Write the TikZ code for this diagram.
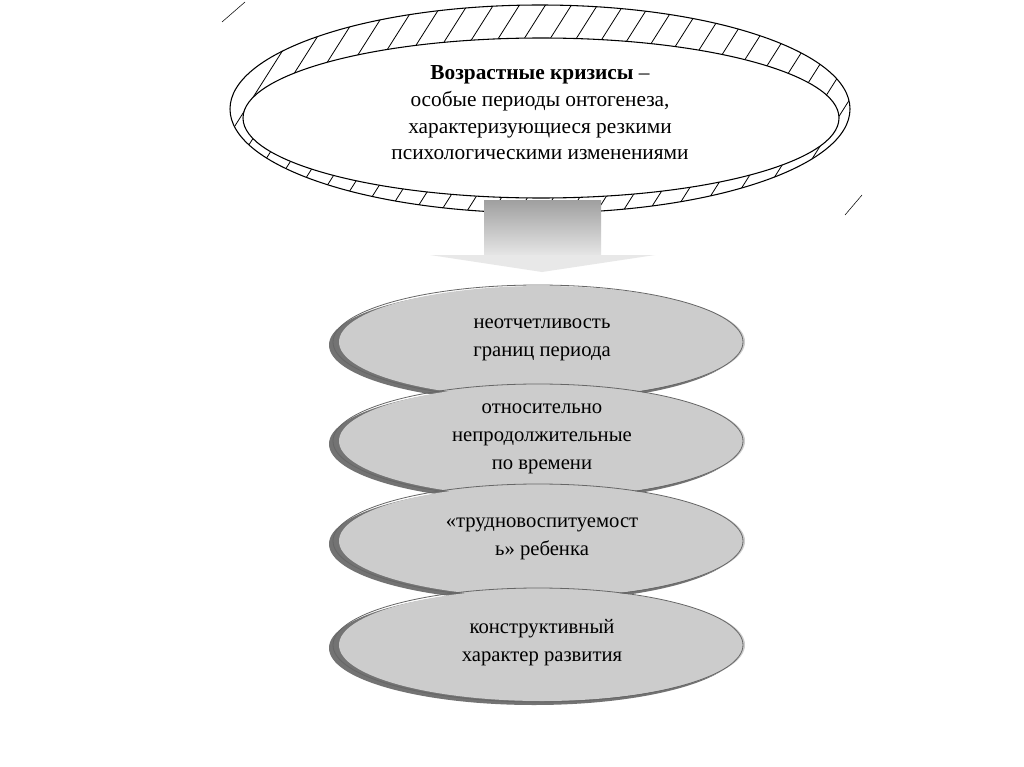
\documentclass[tikz,border=0pt]{standalone}
\usepackage{fontspec}
\setmainfont{Liberation Serif}
\begin{document}
\begin{tikzpicture}[x=0.75pt,y=-0.75pt,
  disc/.style={align=center,font=\fontsize{15.5}{21}\selectfont},
  txt/.style={align=center,font=\fontsize{16}{20}\selectfont}]
\useasboundingbox (0,0) rectangle (1024,767);
\fill[white] (0,0) rectangle (1024,767);
% ring
\begin{scope}[even odd rule]
\clip (540,109) ellipse [x radius=310,y radius=104] (541,118) ellipse [x radius=298,y radius=80];
\foreach \i in {-30,...,40} {\draw[line width=0.6pt] (150+\i*26,260) -- (340+\i*26,-40);}
\end{scope}
\draw[line width=0.8pt] (540,109) ellipse [x radius=310,y radius=104];
\draw[line width=0.8pt,fill=white] (541,118) ellipse [x radius=298,y radius=80];
\node[txt] (top) at (540,113) {\textbf{Возрастные кризисы} –\\особые периоды онтогенеза,\\характеризующиеся резкими\\психологическими изменениями};
\coordinate (a1) at (222,22); \coordinate (a2) at (245,2);
\draw (a1) -- (a2);
\coordinate (b1) at (845,215); \coordinate (b2) at (862,195);
\draw (b1) -- (b2);
% arrow
\shade[top color=gray!75,bottom color=gray!20] (484,200) rectangle (601,255);
\fill[gray!18] (430,255) -- (655,255) -- (542,272) -- cycle;
% discs
\foreach \y/\n/\t in {342/d1/{неотчетливость\\границ периода},441/d2/{относительно\\непродолжительные\\по времени},541/d3/{«трудновоспитуемост\\ь» ребенка},645/d4/{конструктивный\\характер развития}}{
  \fill[black!55] (534,\y+3) ellipse [x radius=205,y radius=57];
  \fill[black!20] (542,\y) ellipse [x radius=203,y radius=56];
  \draw[black!60,line width=0.6pt] (538,\y) ellipse [x radius=205,y radius=57];
  \node[disc] (\n) at (542,\y-2) {\t};
}
\end{tikzpicture}
\end{document}
